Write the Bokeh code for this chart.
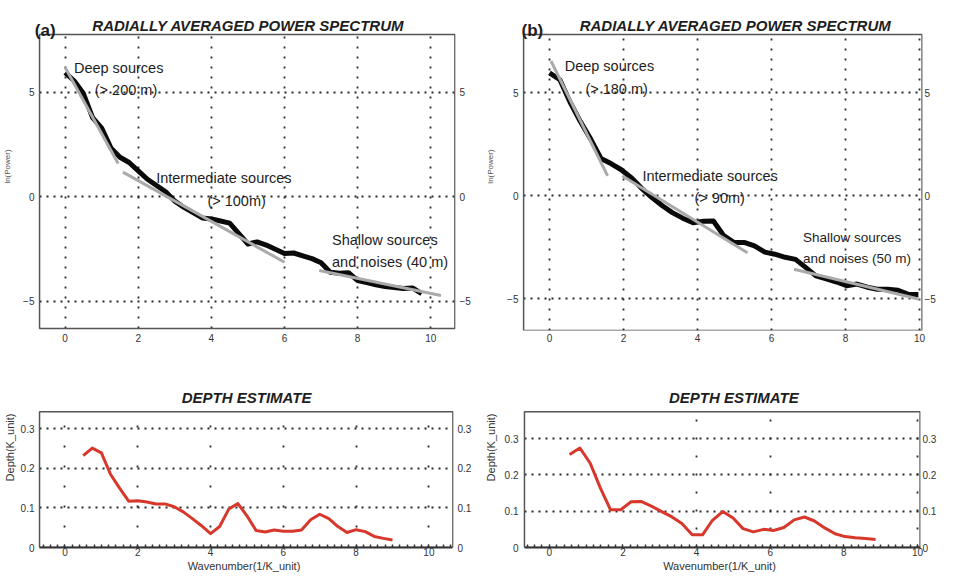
from bokeh.plotting import figure
from bokeh.models import (Range1d, LinearAxis, FixedTicker, SingleIntervalTicker, Label,
                          BoxAnnotation, Grid)
from bokeh.layouts import column, row
from bokeh.embed import file_html
from bokeh.resources import INLINE

# ---------------- data ----------------
k_a = [0.0, 0.25, 0.5, 0.75, 1.0, 1.25, 1.5, 1.75, 2.0, 2.25, 2.5, 2.75, 3.0, 3.25,
       3.5, 3.75, 4.0, 4.25, 4.5, 4.75, 5.0, 5.25, 5.5, 5.75, 6.0, 6.25, 6.5, 6.75,
       7.0, 7.25, 7.5, 7.75, 8.0, 8.25, 8.5, 8.75, 9.0, 9.25, 9.5, 9.75]
power_a = [5.95, 5.55, 4.95, 3.8, 3.3, 2.35, 1.9, 1.65, 1.25, 0.85, 0.55, 0.25, -0.2,
           -0.5, -0.75, -1.0, -1.05, -1.15, -1.25, -1.75, -2.25, -2.15, -2.3, -2.5,
           -2.7, -2.68, -2.82, -2.95, -3.15, -3.6, -3.65, -3.62, -4.0, -4.1, -4.2,
           -4.28, -4.33, -4.38, -4.35, -4.62]

k_b = [0.00, 0.28, 0.55, 0.83, 1.11, 1.39, 1.66, 1.94, 2.22, 2.49, 2.77, 3.05, 3.32,
       3.60, 3.88, 4.16, 4.43, 4.71, 4.99, 5.26, 5.54, 5.82, 6.09, 6.37, 6.65, 6.93,
       7.20, 7.48, 7.76, 8.03, 8.31, 8.59, 8.86, 9.14, 9.42, 9.70, 9.97]
power_b = [5.95, 5.62, 4.55, 3.6, 2.75, 1.8, 1.55, 1.25, 0.85, 0.35, -0.1, -0.5, -0.83,
           -1.1, -1.32, -1.25, -1.24, -1.95, -2.28, -2.28, -2.45, -2.75, -2.85, -3.0,
           -3.1, -3.5, -3.9, -4.05, -4.2, -4.38, -4.3, -4.45, -4.55, -4.55, -4.6,
           -4.8, -4.8]

# straight-line fits (start, end)
fit_a_deep_k = [0.0, 1.45]
fit_a_deep_p = [6.2, 1.6]
fit_a_mid_k = [1.58, 6.0]
fit_a_mid_p = [1.19, -3.12]
fit_a_shallow_k = [6.95, 10.28]
fit_a_shallow_p = [-3.52, -4.71]

fit_b_deep_k = [0.04, 1.57]
fit_b_deep_p = [6.53, 0.95]
fit_b_mid_k = [1.97, 5.35]
fit_b_mid_p = [0.95, -2.78]
fit_b_shallow_k = [6.61, 10.0]
fit_b_shallow_p = [-3.58, -5.04]

depth_k_a = [0.5, 0.75, 1.0, 1.25, 1.5, 1.75, 2.0, 2.25, 2.5, 2.75, 3.0, 3.25, 3.5,
             3.75, 4.0, 4.25, 4.5, 4.75, 5.0, 5.25, 5.5, 5.75, 6.0, 6.25, 6.5, 6.75,
             7.0, 7.25, 7.5, 7.75, 8.0, 8.25, 8.5, 8.75, 9.0]
depth_a = [0.232, 0.251, 0.239, 0.185, 0.150, 0.117, 0.118, 0.115, 0.110, 0.110,
           0.103, 0.090, 0.073, 0.055, 0.035, 0.053, 0.097, 0.111, 0.080, 0.043,
           0.039, 0.044, 0.041, 0.041, 0.044, 0.070, 0.084, 0.073, 0.053, 0.038,
           0.045, 0.040, 0.028, 0.023, 0.019]

depth_k_b = [0.55, 0.83, 1.11, 1.39, 1.66, 1.94, 2.22, 2.49, 2.77, 3.05, 3.32, 3.60,
             3.88, 4.16, 4.43, 4.71, 4.99, 5.26, 5.54, 5.82, 6.09, 6.37, 6.65, 6.93,
             7.20, 7.48, 7.76, 8.03, 8.31, 8.59, 8.86]
depth_b = [0.256, 0.274, 0.232, 0.163, 0.104, 0.104, 0.126, 0.127, 0.114, 0.099,
           0.085, 0.066, 0.035, 0.035, 0.075, 0.099, 0.081, 0.052, 0.043, 0.050,
           0.047, 0.055, 0.076, 0.084, 0.073, 0.054, 0.038, 0.030, 0.027, 0.025,
           0.022]

k_ticks = [0, 2, 4, 6, 8, 10]
power_ticks = [-5, 0, 5]
depth_ticks = [0, 0.1, 0.2, 0.3]
depth_hgrid = [0.1, 0.2, 0.3]
depth_grid_b = [4, 6, 10]

notes_a = [("Deep sources", 0.24, 6.15, "14.5px"), ("(> 200 m)", 0.81, 5.1, "14.5px"),
           ("Intermediate sources", 2.49, 0.89, "14.5px"),
           ("(> 100m)", 3.89, -0.17, "14.5px"),
           ("Shallow sources", 7.3, -2.08, "14.5px"),
           ("and noises (40 m)", 7.3, -3.13, "14.5px")]
notes_b = [("Deep sources", 0.41, 6.29, "14.5px"), ("(> 180 m)", 0.97, 5.17, "14.5px"),
           ("Intermediate sources", 2.51, 0.95, "14.5px"),
           ("(> 90m)", 3.92, -0.12, "14.5px"),
           ("Shallow sources", 6.85, -2.06, "13.5px"),
           ("and noises (50 m)", 6.85, -3.08, "13.5px")]

TITLE_POWER = "RADIALLY AVERAGED POWER SPECTRUM"
TITLE_DEPTH = "DEPTH ESTIMATE"
X_LABEL = "Wavenumber(1/K_unit)"

FONT = "Liberation Sans"
FRAME = "#555555"
DOT = "#2a2a2a"
TXT = "#1e1e1e"
HAS_CROSS = "cross_bounds" in Grid.properties()

# layout (pixels)
W_L, W_R = 474, 465
BL_L, BR_L, BL_R, BR_R = 29, 19, 44, 17
H_TOP, BT_TOP, BB_TOP = 346, 2, 16
H_BOT, BT_BOT, BB_BOT = 228, 1, 25


def make_fig(w, h, xr, yr, bl, br, bt, bb):
    p = figure(width=w, height=h, x_range=Range1d(*xr), y_range=Range1d(*yr),
               output_backend="svg", toolbar_location=None,
               min_border_left=bl, min_border_right=br,
               min_border_top=bt, min_border_bottom=bb)
    p.outline_line_color = None
    return p


def style_axis(ax, size="10px", standoff=5):
    ax.axis_line_color = None
    ax.major_tick_in = 0
    ax.major_tick_out = 0
    ax.minor_tick_in = 0
    ax.minor_tick_out = 0
    ax.major_label_text_font = FONT
    ax.major_label_text_font_size = size
    ax.major_label_text_color = "#333333"
    ax.major_label_standoff = standoff


def right_axis(ticks, standoff):
    ax = LinearAxis(ticker=FixedTicker(ticks=ticks))
    style_axis(ax, "10px", standoff)
    ax.axis_label_standoff = 0
    return ax


def set_grids(p, vticks, vdash, hticks, box):
    left, right, bottom, top = box
    p.xgrid.ticker = FixedTicker(ticks=vticks)
    p.ygrid.ticker = FixedTicker(ticks=hticks)
    for g, dash in ((p.xgrid[0], vdash), (p.ygrid[0], "2 5")):
        g.grid_line_color = DOT
        g.grid_line_width = 1.8
        g.grid_line_dash = dash
    if HAS_CROSS:
        p.xgrid[0].cross_bounds = (bottom, top)
        p.ygrid[0].cross_bounds = (left, right)
    else:
        p.xgrid.visible = False
        p.ygrid.visible = False
        p.multi_line([[t, t] for t in vticks], [[bottom, top] for t in vticks],
                     line_color=DOT, line_width=1.8, line_dash=vdash)
        p.multi_line([[left, right] for t in hticks], [[t, t] for t in hticks],
                     line_color=DOT, line_width=1.8, line_dash="2 5")
    p.add_layout(BoxAnnotation(left=left, right=right, bottom=bottom, top=top,
                               fill_alpha=0, line_color=FRAME, line_alpha=1.0,
                               line_width=1.5, level="underlay"))


def add_text(p, txt, x, y, size, style="normal", align="left", baseline="middle"):
    p.add_layout(Label(x=x, y=y, text=txt, text_font=FONT, text_font_size=size,
                       text_font_style=style, text_color=TXT, text_align=align,
                       text_baseline=baseline))


def power_panel(w, xr, yr, bl, br, box, k, pw, fits, notes, tag, title_xy, tag_xy,
                ylab_standoff, r_standoff):
    p = make_fig(w, H_TOP, xr, yr, bl, br, BT_TOP, BB_TOP)
    p.xaxis.ticker = FixedTicker(ticks=k_ticks)
    p.yaxis.ticker = FixedTicker(ticks=power_ticks)
    style_axis(p.xaxis[0], "10px", 3)
    style_axis(p.yaxis[0], "10px", 0)
    p.yaxis.axis_label = "ln(Power)"
    p.yaxis.axis_label_text_font = FONT
    p.yaxis.axis_label_text_font_style = "normal"
    p.yaxis.axis_label_text_font_size = "8px"
    p.yaxis.axis_label_text_color = "#555555"
    p.yaxis.axis_label_standoff = ylab_standoff
    p.add_layout(right_axis(power_ticks, r_standoff), "right")

    set_grids(p, k_ticks, "2 8", power_ticks, box)

    p.line(k, pw, line_color="#0a0a0a", line_width=5, line_join="round")
    for fk, fp in fits:
        p.line(fk, fp, line_color="#aaaaaa", line_width=3)

    for txt, x, y, size in notes:
        add_text(p, txt, x, y, size)
    add_text(p, TITLE_POWER, title_xy[0], title_xy[1], "15px", "bold italic", "center",
             "alphabetic")
    add_text(p, tag, tag_xy[0], tag_xy[1], "17px", "bold", "left", "alphabetic")
    return p


def depth_panel(w, xr, yr, bl, br, box, k, d, vticks, vdash, title_xy, ylab_standoff,
                r_standoff):
    p = make_fig(w, H_BOT, xr, yr, bl, br, BT_BOT, BB_BOT)
    p.xaxis.ticker = SingleIntervalTicker(interval=2, num_minor_ticks=10)
    xa = p.xaxis[0]
    style_axis(xa, "10px", 0)
    xa.bounds = (box[0], box[1])
    xa.axis_line_color = "#333333"
    xa.axis_line_width = 2
    xa.major_tick_in = 3
    xa.minor_tick_in = 3
    xa.major_tick_line_color = "#333333"
    xa.minor_tick_line_color = "#333333"
    xa.minor_tick_line_width = 1.5
    xa.axis_label = X_LABEL
    xa.axis_label_text_font = FONT
    xa.axis_label_text_font_style = "normal"
    xa.axis_label_text_font_size = "11px"
    xa.axis_label_text_color = "#333333"
    xa.axis_label_standoff = 1

    p.yaxis.ticker = FixedTicker(ticks=depth_ticks)
    ya = p.yaxis[0]
    style_axis(ya, "10px", 0)
    ya.major_label_overrides = {0: "0"}
    ya.axis_label = "Depth(K_unit)"
    ya.axis_label_text_font = FONT
    ya.axis_label_text_font_style = "normal"
    ya.axis_label_text_font_size = "11px"
    ya.axis_label_text_color = "#333333"
    ya.axis_label_standoff = ylab_standoff
    r = right_axis(depth_ticks, r_standoff)
    r.major_label_overrides = {0: "0"}
    p.add_layout(r, "right")

    set_grids(p, vticks, vdash, depth_hgrid, box)

    p.line(k, d, line_color="#d8372c", line_width=3, line_join="round")
    add_text(p, TITLE_DEPTH, title_xy[0], title_xy[1], "15px", "bold italic", "center",
             "alphabetic")
    return p


XR_L = (-0.838, 10.676)
XR_R = (-0.838, 10.081)

p1 = power_panel(W_L, XR_L, (-6.388, 9.306), BL_L, BR_L, (-0.70, 10.66, -6.292, 7.775),
                 k_a, power_a,
                 [(fit_a_deep_k, fit_a_deep_p), (fit_a_mid_k, fit_a_mid_p),
                  (fit_a_shallow_k, fit_a_shallow_p)],
                 notes_a, "(a)", (5.01, 8.206), (-0.83, 7.967), 8, 4)
p2 = power_panel(W_R, XR_R, (-6.553, 9.369), BL_R, BR_R, (-0.70, 10.07, -6.553, 7.816),
                 k_b, power_b,
                 [(fit_b_deep_k, fit_b_deep_p), (fit_b_mid_k, fit_b_mid_p),
                  (fit_b_shallow_k, fit_b_shallow_p)],
                 notes_b, "(b)", (5.03, 8.252), (-0.757, 8.01), 9, 2)

p3 = depth_panel(W_L, XR_L, (0, 0.505), BL_L, BR_L, (-0.70, 10.66, 0, 0.3425),
                 depth_k_a, depth_a, k_ticks, "2 18", (4.99, 0.38), 2, 4)
p4 = depth_panel(W_R, XR_R, (0, 0.5509), BL_R, BR_R, (-0.676, 10.07, 0, 0.3736),
                 depth_k_b, depth_b, depth_grid_b, "2 16", (5.01, 0.4145), 5, 2)

layout = column(row(p1, p2, spacing=0), row(p3, p4, spacing=0), spacing=0)

open("out.html", "w").write(file_html(layout, INLINE))
